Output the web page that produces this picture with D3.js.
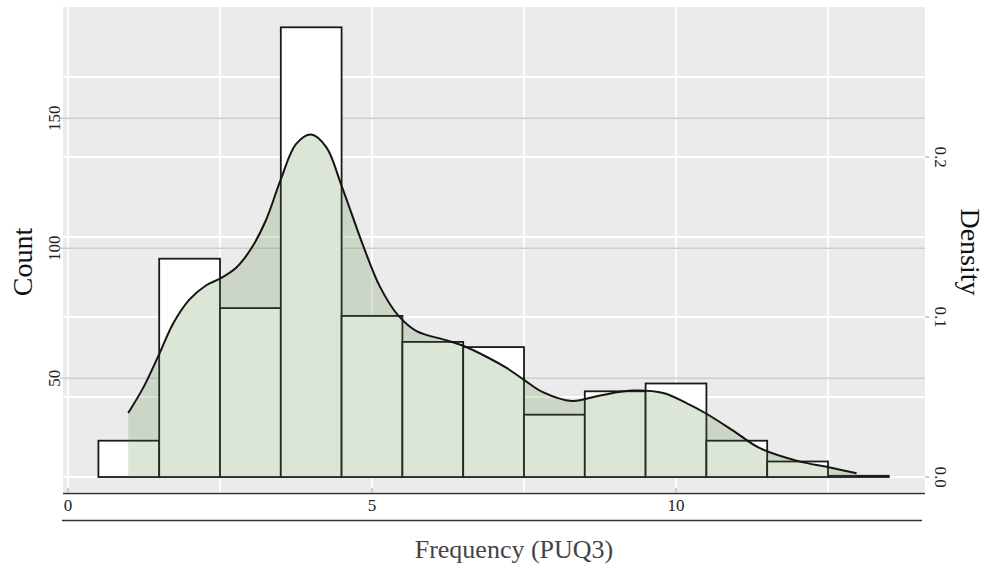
<!DOCTYPE html>
<html>
<head>
<meta charset="utf-8">
<script src="https://cdn.jsdelivr.net/npm/d3@7"></script>
<style>
  html, body { margin: 0; padding: 0; background: #ffffff; }
  svg { display: block; }
  text { font-family: "Liberation Serif", "DejaVu Serif", serif; }
</style>
</head>
<body>
<svg id="chart" width="987" height="577"></svg>
<script>
// ---------- data ----------
const binCenters = [1, 2, 3, 4, 5, 6, 7, 8, 9, 10, 11, 12, 13];
const counts     = [26, 96, 77, 185, 74, 64, 62, 36, 45, 48, 26, 18, 12.5];
const binWidth = 1;

const densX = [0.99, 1.24, 1.49, 1.73, 2.0, 2.28, 2.5, 2.77, 3.0, 3.25, 3.5, 3.75, 4.0, 4.25, 4.5, 4.86, 5.13, 5.43, 5.74, 6.17, 6.5, 6.89, 7.22, 7.49, 7.81, 8.29, 8.75, 9.3, 9.79, 10.18, 10.48, 10.94, 11.38, 12.04, 12.48, 12.97];
const densY = [0.040, 0.056, 0.076, 0.096, 0.111, 0.120, 0.124, 0.131, 0.142, 0.160, 0.186, 0.208, 0.214, 0.206, 0.182, 0.144, 0.119, 0.101, 0.091, 0.086, 0.082, 0.075, 0.068, 0.061, 0.053, 0.0475, 0.051, 0.054, 0.0525, 0.046, 0.040, 0.029, 0.018, 0.0096, 0.0064, 0.0023];

const xTickVals = [0, 5, 10];
const xGridVals = [0, 2.5, 5, 7.5, 10, 12.5];
const countTickVals = [50, 100, 150];
const densTickVals = [0, 0.1, 0.2];
const densGridVals = [0, 0.05, 0.1, 0.15, 0.2, 0.25];

const xTitle = "Frequency (PUQ3)";
const yLeftTitle = "Count";
const yRightTitle = "Density";

// ---------- layout ----------
const panel = { left: 63, right: 925, top: 7, bottom: 492 };
const svg = d3.select("#chart");

const x = d3.scaleLinear().domain([0, 10]).range([68, 676]);
const yDens = d3.scaleLinear().domain([0, 0.2]).range([477, 157]);
const yCount = d3.scaleLinear().domain([50, 150]).range([378.3, 118.3]);

// panel background
svg.append("rect")
  .attr("x", panel.left).attr("y", panel.top)
  .attr("width", panel.right - panel.left).attr("height", panel.bottom - panel.top)
  .attr("fill", "#ebebeb");

// white grid (density + x)
const grid = svg.append("g");
grid.selectAll("line.vx").data(xGridVals).join("line")
  .attr("x1", d => x(d)).attr("x2", d => x(d))
  .attr("y1", panel.top).attr("y2", panel.bottom)
  .attr("stroke", "#ffffff").attr("stroke-width", 1.8);
grid.selectAll("line.hd").data(densGridVals).join("line")
  .attr("x1", panel.left).attr("x2", panel.right)
  .attr("y1", d => yDens(d)).attr("y2", d => yDens(d))
  .attr("stroke", "#ffffff").attr("stroke-width", 1.8);
// gray grid (count)
grid.selectAll("line.hc").data(countTickVals).join("line")
  .attr("x1", panel.left - 3).attr("x2", panel.right)
  .attr("y1", d => yCount(d)).attr("y2", d => yCount(d))
  .attr("stroke", "#cdcdcd").attr("stroke-width", 1.5);

// histogram bars
const base = yDens(0);
svg.append("g").selectAll("rect").data(binCenters).join("rect")
  .attr("x", d => x(d - binWidth / 2))
  .attr("width", d => x(d + binWidth / 2) - x(d - binWidth / 2))
  .attr("y", (d, i) => yCount(counts[i]))
  .attr("height", (d, i) => base - yCount(counts[i]))
  .attr("fill", "#ffffff")
  .attr("stroke", "#1a1a1a")
  .attr("stroke-width", 1.8);

// density
const dens = densX.map((v, i) => [v, densY[i]]);
const curve = d3.curveCatmullRom.alpha(0.5);
const area = d3.area().x(d => x(d[0])).y0(yDens(0)).y1(d => yDens(d[1])).curve(curve);
const line = d3.line().x(d => x(d[0])).y(d => yDens(d[1])).curve(curve);
svg.append("path").datum(dens).attr("d", area)
  .attr("fill", "rgb(75,130,50)").attr("fill-opacity", 0.2);
svg.append("path").datum(dens).attr("d", line)
  .attr("fill", "none").attr("stroke", "#151515").attr("stroke-width", 2);

// bottom axis
svg.append("line").attr("x1", panel.left).attr("x2", panel.right)
  .attr("y1", 493.5).attr("y2", 493.5).attr("stroke", "#333").attr("stroke-width", 1.6);
svg.append("g").selectAll("line").data(xTickVals).join("line")
  .attr("x1", d => x(d)).attr("x2", d => x(d))
  .attr("y1", 488).attr("y2", 492.5)
  .attr("stroke", "#9a9a9a").attr("stroke-width", 1);
svg.append("g").selectAll("text").data(xTickVals).join("text")
  .attr("x", d => x(d)).attr("y", 511)
  .attr("text-anchor", "middle").attr("font-size", 17).attr("fill", "#222")
  .text(d => d);
svg.append("line").attr("x1", 62).attr("x2", 922)
  .attr("y1", 520.5).attr("y2", 520.5).attr("stroke", "#333").attr("stroke-width", 1.6);
svg.append("text").attr("x", 514).attr("y", 558)
  .attr("text-anchor", "middle").attr("font-size", 26).attr("fill", "#444")
  .text(xTitle);

// left axis
svg.append("g").selectAll("text").data(countTickVals).join("text")
  .attr("transform", d => `translate(60,${yCount(d)}) rotate(-90)`)
  .attr("text-anchor", "middle").attr("font-size", 17).attr("fill", "#222")
  .text(d => d);
svg.append("text")
  .attr("transform", "translate(32,262) rotate(-90)")
  .attr("text-anchor", "middle").attr("font-size", 28).attr("fill", "#111")
  .text(yLeftTitle);

// right axis
svg.append("g").selectAll("line").data(densTickVals).join("line")
  .attr("x1", panel.right).attr("x2", panel.right + 4)
  .attr("y1", d => yDens(d)).attr("y2", d => yDens(d))
  .attr("stroke", "#9a9a9a").attr("stroke-width", 1);
svg.append("g").selectAll("text").data(densTickVals).join("text")
  .attr("transform", d => `translate(935,${yDens(d)}) rotate(90)`)
  .attr("text-anchor", "middle").attr("font-size", 17).attr("fill", "#222")
  .text(d => d.toFixed(1));
svg.append("text")
  .attr("transform", "translate(961,252) rotate(90)")
  .attr("text-anchor", "middle").attr("font-size", 28).attr("fill", "#111")
  .text(yRightTitle);
</script>
</body>
</html>
